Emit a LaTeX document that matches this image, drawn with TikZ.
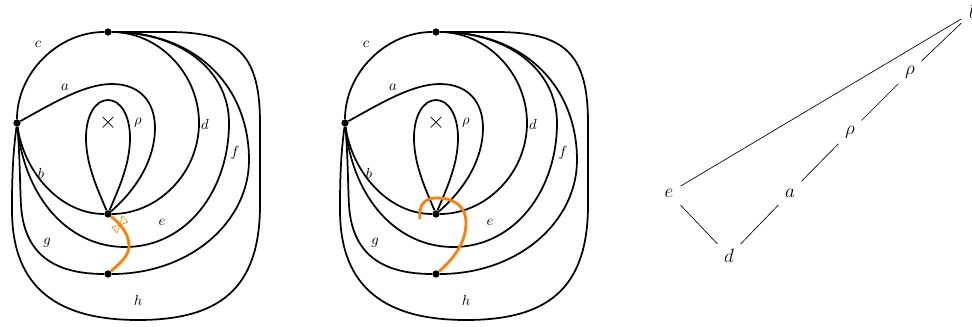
\documentclass[tikz,border=0pt]{standalone}
\usepackage{amsmath,amssymb}
\usetikzlibrary{arrows.meta,positioning,calc}
\definecolor{cutcolor}{RGB}{255,128,0}
\tikzset{
  vertexdot/.style={circle, fill=black, inner sep=0pt, minimum size=5.5pt},
  arcline/.style={line width=1.3pt},
  cutline/.style={cutcolor, line width=2.1pt},
  cutmark/.style={cutcolor, line width=0.5pt, fill=white},
  arclabel/.style={font=\fontsize{11}{13}\selectfont, inner sep=0pt},
  quiverdot/.style={font=\Large, inner sep=0pt, minimum width=17pt, minimum height=18pt},
  quiverline/.style={line width=0.5pt}
}
% shared triangulation, #1 is the prefix of the node names
\newcommand{\arcsystem}[1]{%
  \node[vertexdot] (#1top) at (108, 32) {};
  \node[vertexdot] (#1left) at (17, 123) {};
  \node[vertexdot] (#1mid) at (108, 214) {};
  \node[vertexdot] (#1bot) at (108, 274) {};
  \node[font=\LARGE, inner sep=0pt] (#1punct) at (108, 123) {$\times$};
  % arcs
  \draw[arcline] (#1left) .. controls (17, 73) and (58, 32) .. (#1top);
  \draw[arcline] (#1left) .. controls (55, 102) and (85, 84) .. (112, 84)
    .. controls (140, 84) and (155, 102) .. (155, 128)
    .. controls (155, 158) and (138, 188) .. (#1mid);
  \draw[arcline] (#1mid) .. controls (98, 190) and (86, 165) .. (86, 138)
    .. controls (86, 116) and (95, 100) .. (108, 100)
    .. controls (121, 100) and (130, 116) .. (130, 138)
    .. controls (130, 165) and (118, 190) .. (#1mid);
  \draw[arcline] (#1left) .. controls (24, 172) and (60, 214) .. (#1mid);
  \draw[arcline] (#1mid) .. controls (158, 214) and (199, 173) .. (199, 123)
    .. controls (199, 73) and (158, 32) .. (#1top);
  \draw[arcline] (#1left) .. controls (25, 200) and (70, 247) .. (125, 247)
    .. controls (187, 247) and (229, 190) .. (229, 123)
    .. controls (229, 70) and (180, 32) .. (#1top);
  \draw[arcline] (#1bot) .. controls (190, 274) and (249, 222) .. (249, 160)
    .. controls (249, 88) and (198, 32) .. (#1top);
  \draw[arcline] (#1left) .. controls (20, 155) and (20, 190) .. (21, 205)
    .. controls (24, 255) and (55, 274) .. (#1bot);
  \draw[arcline] (#1left) .. controls (12, 160) and (12, 190) .. (12, 210)
    .. controls (12, 290) and (60, 320) .. (138, 320)
    .. controls (218, 320) and (260, 290) .. (260, 205)
    .. controls (260, 170) and (260, 150) .. (260, 123)
    .. controls (260, 55) and (238, 32) .. (168, 32)
    -- (#1top);
  % labels
  \node[arclabel] (#1lc) at (38, 44) {$c$};
  \node[arclabel] (#1la) at (65, 87) {$a$};
  \node[arclabel] (#1lrho) at (138, 123) {$\rho$};
  \node[arclabel] (#1ld) at (205, 124) {$d$};
  \node[arclabel] (#1lf) at (235, 153) {$f$};
  \node[arclabel] (#1lb) at (41, 173) {$b$};
  \node[arclabel] (#1le) at (162, 222) {$e$};
  \node[arclabel] (#1lg) at (47, 243) {$g$};
  \node[arclabel] (#1lh) at (138, 300) {$h$};
}

\begin{document}
\begin{tikzpicture}[x=0.75pt, y=-0.75pt]
  \useasboundingbox (0, 0) rectangle (972, 327);

  % left surface
  \begin{scope}
    \arcsystem{p}
    \draw[cutline] (pmid) .. controls (118, 222) and (129, 232) .. (129, 246)
      .. controls (129, 256) and (120, 263) .. (pbot);
    % tagged arc mark
    \draw[cutmark] (120, 225) -- (122, 216) -- (128, 222) -- cycle;
    \draw[cutmark] (120, 225) -- (112, 227) -- (117, 233) -- cycle;
  \end{scope}

  % right surface
  \begin{scope}[shift={(328, 0)}]
    \arcsystem{q}
    \draw[cutline] (92, 219) .. controls (90, 205) and (97, 198) .. (108, 198)
      .. controls (125, 198) and (138, 205) .. (138, 223)
      .. controls (138, 245) and (122, 262) .. (qbot);
  \end{scope}

  % quiver
  \node[quiverdot] (qe) at (669, 193) {$e$};
  \node[quiverdot] (qd) at (729, 256) {$d$};
  \node[quiverdot] (qa) at (790, 193) {$a$};
  \node[quiverdot] (qrhoA) at (850, 132) {$\rho$};
  \node[quiverdot] (qrhoB) at (910, 72) {$\rho$};
  \node[quiverdot] (qb) at (973, 12) {$b$};

  \draw[quiverline] (qe) -- (qb);
  \draw[quiverline] (qb) -- (qrhoB);
  \draw[quiverline] (qrhoB) -- (qrhoA);
  \draw[quiverline] (qrhoA) -- (qa);
  \draw[quiverline] (qa) -- (qd);
  \draw[quiverline] (qd) -- (qe);
\end{tikzpicture}
\end{document}
